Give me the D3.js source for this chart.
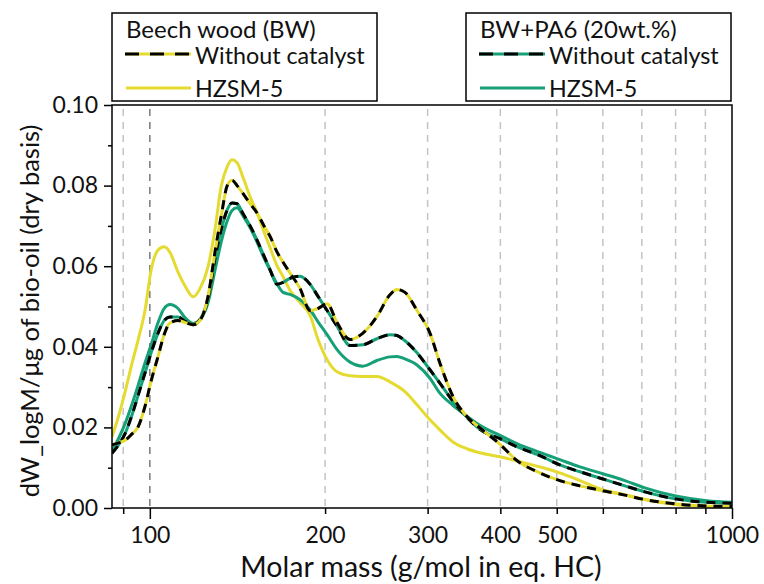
<!DOCTYPE html>
<html>
<head>
<meta charset="utf-8">
<script src="https://cdn.jsdelivr.net/npm/d3@7"></script>
<style>
  body { margin: 0; background: #fff; }
  svg text { font-family: Lato, "Open Sans", sans-serif; fill: #111; }
</style>
</head>
<body>
<div id="chart"></div>
<script>
var w = 764;
var h = 584;
var plotL = 112, plotR = 732, plotT = 105, plotB = 508;

// molar mass grid (g/mol) shared by all four curves
var molarMass = [86.1, 88.2, 90.7, 92.9, 95.5, 98.1, 100.5, 103.3, 105.8, 108.3,
  111.8, 115.0, 118.7, 122.0, 125.9, 129.4, 132.6, 135.8, 138.4, 141.2,
  144.6, 148.7, 152.8, 157.1, 160.9, 165.4, 169.4, 174.1, 181.1, 188.5,
  194.5, 201.6, 209.7, 220.8, 232.3, 245.5, 258.5, 265.8, 274.3, 287.7,
  302.8, 314.9, 331.6, 350.5, 368.9, 399.5, 427.1, 467.7, 506.1, 548.0,
  600.1, 654.6, 708.5, 804.2, 904.9, 1000];

var bwNoCatalyst = [0.0157, 0.0161, 0.0168, 0.0182, 0.0202, 0.0252, 0.0315, 0.0376, 0.0430, 0.0459,
  0.0465, 0.0460, 0.0455, 0.0466, 0.0525, 0.0635, 0.0724, 0.0800, 0.0813, 0.0800,
  0.0780, 0.0755, 0.0732, 0.0700, 0.0674, 0.0635, 0.0610, 0.0583, 0.0545, 0.0490,
  0.0495, 0.0507, 0.0460, 0.0418, 0.0434, 0.0475, 0.0529, 0.0542, 0.0535, 0.0490,
  0.0434, 0.0360, 0.0277, 0.0227, 0.0199, 0.0158, 0.0118, 0.0087, 0.0068, 0.0055,
  0.0043, 0.0032, 0.0021, 0.0010, 0.0005, 0.0004];

var bwHZSM5 = [0.0177, 0.0224, 0.0289, 0.0351, 0.0418, 0.0490, 0.0590, 0.0640, 0.0648, 0.0634,
  0.0585, 0.0550, 0.0524, 0.0545, 0.0599, 0.0691, 0.0798, 0.0847, 0.0864, 0.0857,
  0.0820, 0.0772, 0.0733, 0.0685, 0.0646, 0.0601, 0.0574, 0.0540, 0.0510, 0.0478,
  0.0418, 0.0368, 0.0338, 0.0328, 0.0326, 0.0326, 0.0313, 0.0303, 0.0289, 0.0256,
  0.0219, 0.0194, 0.0164, 0.0147, 0.0137, 0.0127, 0.0117, 0.0102, 0.0087, 0.0068,
  0.0045, 0.0033, 0.0021, 0.0008, 0.0004, 0.0003];

var pa6NoCatalyst = [0.0136, 0.0155, 0.0185, 0.0225, 0.0280, 0.0335, 0.0385, 0.0434, 0.0465, 0.0474,
  0.0474, 0.0463, 0.0455, 0.0468, 0.0520, 0.0620, 0.0690, 0.0740, 0.0757, 0.0755,
  0.0730, 0.0700, 0.0665, 0.0625, 0.0591, 0.0555, 0.0560, 0.0570, 0.0575, 0.0555,
  0.0525, 0.0490, 0.0451, 0.0403, 0.0405, 0.0420, 0.0430, 0.0428, 0.0415, 0.0385,
  0.0343, 0.0310, 0.0265, 0.0225, 0.0195, 0.0172, 0.0152, 0.0130, 0.0107, 0.0090,
  0.0072, 0.0055, 0.0040, 0.0022, 0.0014, 0.0012];

var pa6HZSM5 = [0.0140, 0.0170, 0.0210, 0.0252, 0.0305, 0.0360, 0.0405, 0.0460, 0.0495, 0.0505,
  0.0495, 0.0472, 0.0458, 0.0468, 0.0510, 0.0590, 0.0660, 0.0712, 0.0738, 0.0745,
  0.0725, 0.0695, 0.0660, 0.0620, 0.0590, 0.0556, 0.0535, 0.0530, 0.0517, 0.0492,
  0.0462, 0.0430, 0.0393, 0.0362, 0.0352, 0.0366, 0.0375, 0.0376, 0.0370, 0.0355,
  0.0322, 0.0285, 0.0255, 0.0228, 0.0205, 0.0180, 0.0160, 0.0138, 0.0120, 0.0102,
  0.0085, 0.0068, 0.0050, 0.0029, 0.0018, 0.0014];

var xTicks = [90, 100, 200, 300, 400, 500, 600, 700, 800, 900, 1000];
var xLabels = [100, 200, 300, 400, 500, 1000];
var yTicks = [0, 0.01, 0.02, 0.03, 0.04, 0.05, 0.06, 0.07, 0.08, 0.09, 0.10];

var yellow = "#e5db30";
var green = "#15a078";

var xScale = d3.scaleLog().domain([86.1, 1000]).range([plotL, plotR]);
var yScale = d3.scaleLinear().domain([0, 0.10]).range([plotB, plotT]);

var svg = d3.select("#chart").append("svg")
  .attr("width", w)
  .attr("height", h);

// vertical dashed grid, 100 is darker
svg.append("g").selectAll("line")
  .data(xTicks.filter(function(d){ return d < 1000; }))
  .enter().append("line")
  .attr("x1", function(d){ return xScale(d); })
  .attr("x2", function(d){ return xScale(d); })
  .attr("y1", plotT + 4)
  .attr("y2", plotB)
  .attr("stroke", function(d){ return d == 100 ? "#7a7a7a" : "#c4c4c4"; })
  .attr("stroke-width", 1.5)
  .attr("stroke-dasharray", "7,6");

svg.append("clipPath").attr("id", "clip")
  .append("rect")
  .attr("x", plotL).attr("y", plotT)
  .attr("width", plotR - plotL).attr("height", plotB - plotT);

var line = d3.line()
  .x(function(d){ return xScale(d[0]); })
  .y(function(d){ return yScale(d[1]); })
  .curve(d3.curveMonotoneX);

function pairs(vals) {
  return molarMass.map(function(m, i){ return [m, vals[i]]; });
}

var curves = svg.append("g").attr("clip-path", "url(#clip)");

function drawSeries(vals, color, dashed) {
  curves.append("path")
    .datum(pairs(vals))
    .attr("d", line)
    .attr("fill", "none")
    .attr("stroke", color)
    .attr("stroke-width", 3);
  if (dashed) {
    curves.append("path")
      .datum(pairs(vals))
      .attr("d", line)
      .attr("fill", "none")
      .attr("stroke", "#000")
      .attr("stroke-width", 3)
      .attr("stroke-dasharray", "9,7");
  }
}

drawSeries(bwHZSM5, yellow, false);
drawSeries(pa6HZSM5, green, false);
drawSeries(pa6NoCatalyst, green, true);
drawSeries(bwNoCatalyst, yellow, true);

// axes
var xAxis = d3.axisBottom(xScale)
  .tickValues(xTicks)
  .tickFormat(function(d){ return xLabels.indexOf(d) >= 0 ? d : ""; })
  .tickSizeOuter(0);

var gx = svg.append("g")
  .attr("transform", "translate(0," + plotB + ")")
  .call(xAxis);
gx.select(".domain").remove();
gx.selectAll(".tick line")
  .attr("stroke", "#000")
  .attr("stroke-width", 1.5)
  .attr("y2", function(d){ return (d == 100 || d == 1000) ? 11 : 6; });
gx.selectAll(".tick text")
  .attr("y", 19)
  .style("font-size", "23px");

var yAxis = d3.axisLeft(yScale)
  .tickValues(yTicks)
  .tickFormat(function(d, i){ return i % 2 == 0 ? d3.format(".2f")(d) : ""; })
  .tickSizeOuter(0);

var gy = svg.append("g")
  .attr("transform", "translate(" + plotL + ",0)")
  .call(yAxis);
gy.select(".domain").remove();
gy.selectAll(".tick line")
  .attr("stroke", "#000")
  .attr("stroke-width", 1.5)
  .attr("x2", function(d, i){ return i % 2 == 0 ? -8 : -4; });
gy.selectAll(".tick text")
  .attr("x", -14)
  .style("font-size", "23px");

// frame
svg.append("rect")
  .attr("x", plotL).attr("y", plotT)
  .attr("width", plotR - plotL).attr("height", plotB - plotT)
  .attr("fill", "none")
  .attr("stroke", "#000")
  .attr("stroke-width", 1.5);

svg.append("text")
  .attr("x", 421)
  .attr("y", 577)
  .attr("text-anchor", "middle")
  .style("font-size", "28.5px")
  .text("Molar mass (g/mol in eq. HC)");

svg.append("text")
  .attr("transform", "translate(39," + 311 + ") rotate(-90)")
  .attr("text-anchor", "middle")
  .style("font-size", "25.5px")
  .text("dW_logM/\u03bcg of bio-oil (dry basis)");

// legends
var legends = [
  {x: 112, title: "Beech wood (BW)", color: yellow},
  {x: 466, title: "BW+PA6 (20wt.%)", color: green}
];

legends.forEach(function(lg) {
  var g = svg.append("g").attr("transform", "translate(" + lg.x + ",13)");
  g.append("rect")
    .attr("width", 265).attr("height", 88)
    .attr("fill", "#fff")
    .attr("stroke", "#000")
    .attr("stroke-width", 1.5);
  g.append("text").attr("x", 14).attr("y", 25)
    .style("font-size", "24px").text(lg.title);
  g.append("line").attr("x1", 13).attr("x2", 79).attr("y1", 41).attr("y2", 41)
    .attr("stroke", lg.color).attr("stroke-width", 3);
  g.append("line").attr("x1", 13).attr("x2", 79).attr("y1", 41).attr("y2", 41)
    .attr("stroke", "#000").attr("stroke-width", 3).attr("stroke-dasharray", "14,11");
  g.append("text").attr("x", 83).attr("y", 51)
    .style("font-size", "23.3px").text("Without catalyst");
  g.append("line").attr("x1", 14).attr("x2", 79).attr("y1", 75).attr("y2", 75)
    .attr("stroke", lg.color).attr("stroke-width", 3);
  g.append("text").attr("x", 83).attr("y", 84)
    .style("font-size", "23.3px").text("HZSM-5");
});
</script>
</body>
</html>
